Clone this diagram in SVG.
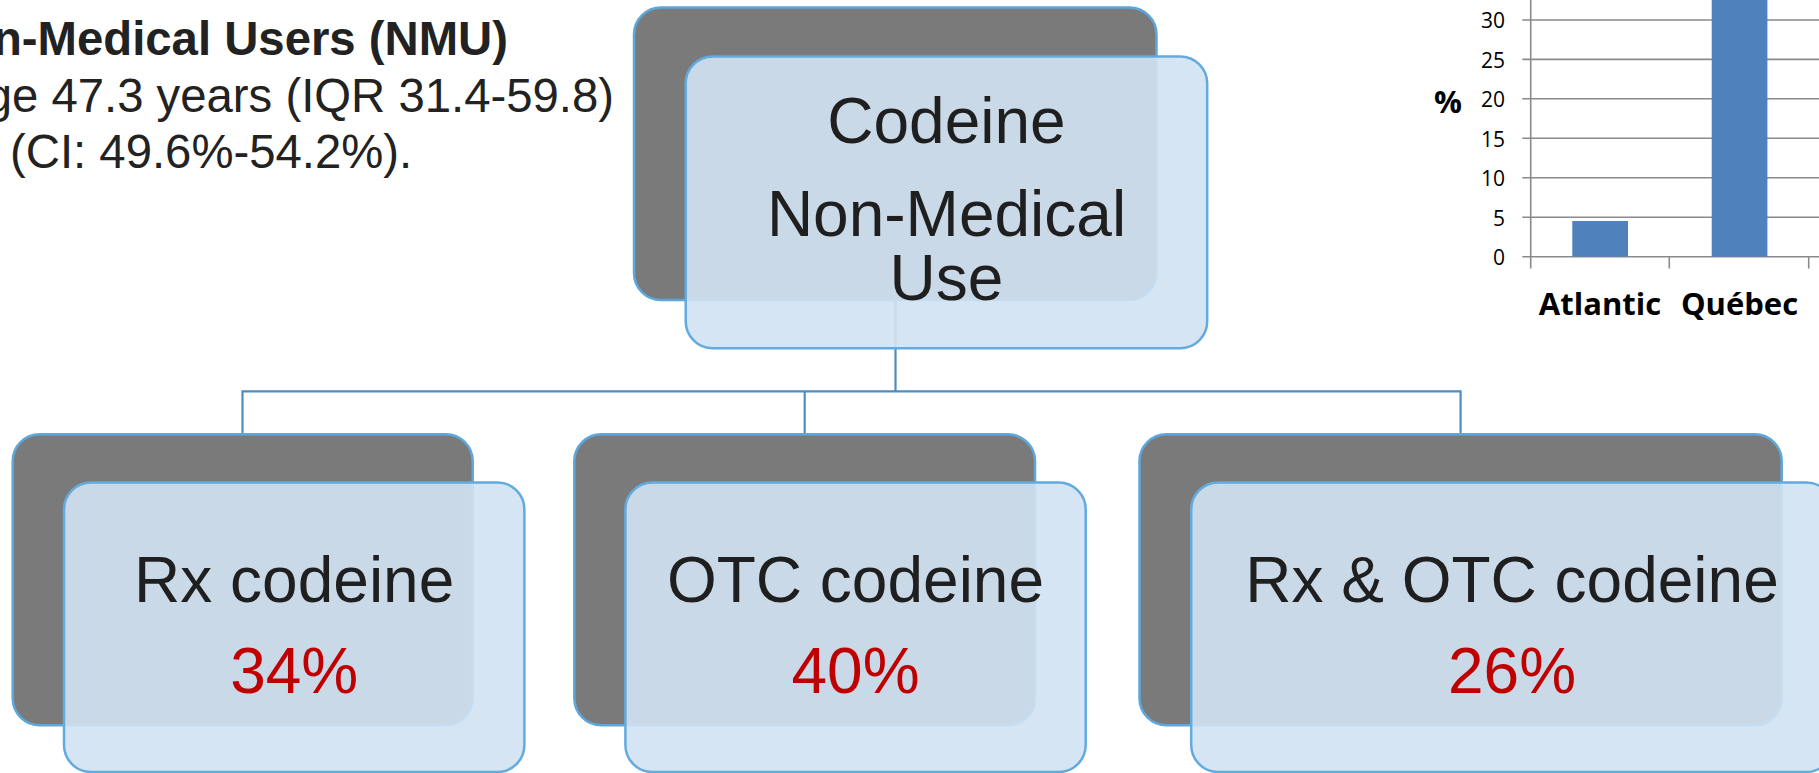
<svg xmlns="http://www.w3.org/2000/svg" width="1819" height="773" viewBox="0 0 1819 773">
  <style>
    .back { fill: #7a7a7a; stroke: #5ea7dc; stroke-width: 2.5; }
    .front { fill: rgb(209,226,243); fill-opacity: 0.91; stroke: #62abdf; stroke-width: 2.5; }
    .lbl { font-family: "Liberation Sans", Arial, sans-serif; font-size: 64px; fill: #1f1f1f; text-anchor: middle; }
    .pct { font-family: "Liberation Sans", Arial, sans-serif; font-size: 64px; fill: #c00000; text-anchor: middle; }
    .info { font-family: "Liberation Sans", Arial, sans-serif; font-size: 47.3px; fill: #222222; }
    .link { fill: none; stroke: #4d8ebf; stroke-width: 2.2; }
    .grid { stroke: #8a8a8a; stroke-width: 1.6; }
    .tick { font-family: "Open Sans", "DejaVu Sans", sans-serif; font-size: 21px; fill: #000000; text-anchor: end; }
    .cat { font-family: "Open Sans", "DejaVu Sans", sans-serif; font-size: 31px; font-weight: bold; fill: #000000; text-anchor: middle; }
  </style>

  <!-- summary text, top left -->
  <g id="summary">
    <text class="info" x="508" y="55" font-weight="bold" font-size="46.5" text-anchor="end">n-Medical Users (NMU)</text>
    <text class="info" x="614" y="112" text-anchor="end">ge 47.3 years (IQR 31.4-59.8)</text>
    <text class="info" x="10" y="168">(CI: 49.6%-54.2%).</text>
  </g>

  <!-- regional bar chart, top right -->
  <g id="chart">
    <g class="grid">
      <line x1="1522.3" y1="20" x2="1819" y2="20"/>
      <line x1="1522.3" y1="59.4" x2="1819" y2="59.4"/>
      <line x1="1522.3" y1="98.8" x2="1819" y2="98.8"/>
      <line x1="1522.3" y1="138.3" x2="1819" y2="138.3"/>
      <line x1="1522.3" y1="177.7" x2="1819" y2="177.7"/>
      <line x1="1522.3" y1="217.2" x2="1819" y2="217.2"/>
      <line x1="1522.3" y1="256.7" x2="1819" y2="256.7"/>
      <line x1="1530.7" y1="0" x2="1530.7" y2="268.5"/>
      <line x1="1669.3" y1="256.7" x2="1669.3" y2="268.5"/>
      <line x1="1808.7" y1="256.7" x2="1808.7" y2="268.5"/>
    </g>
    <rect x="1572.3" y="221" width="55.7" height="35.7" fill="#4f81bd"/>
    <rect x="1711.7" y="0" width="55.7" height="256.7" fill="#4f81bd"/>
    <text class="tick" x="1505" y="28.3">30</text>
    <text class="tick" x="1505" y="67.8">25</text>
    <text class="tick" x="1505" y="107.2">20</text>
    <text class="tick" x="1505" y="146.7">15</text>
    <text class="tick" x="1505" y="186.1">10</text>
    <text class="tick" x="1505" y="225.6">5</text>
    <text class="tick" x="1505" y="265">0</text>
    <text class="cat" x="1448" y="113" font-size="26">%</text>
    <text class="cat" x="1600" y="315">Atlantic</text>
    <text class="cat" x="1739.5" y="315">Québec</text>
  </g>

  <!-- tree connectors -->
  <g id="connectors">
    <path class="link" d="M895.5 300 V391.3 M242.5 434.3 V391.3 H1460.6 V434.3 M804.7 391.3 V434.3"/>
  </g>

  <g id="node-root">
    <rect class="back" x="634" y="7.5" width="522.5" height="292.5" rx="27"/>
    <rect class="front" x="685.7" y="56.5" width="521.5" height="291.8" rx="27"/>
    <text class="lbl" x="946.5" y="143">Codeine</text>
    <text class="lbl" x="946.5" y="235.5">Non-Medical</text>
    <text class="lbl" x="946.5" y="299.5">Use</text>
  </g>

  <g id="node-rx">
    <rect class="back" x="12.7" y="434.3" width="460" height="291" rx="27"/>
    <rect class="front" x="64" y="482.5" width="460.4" height="289.5" rx="27"/>
    <text class="lbl" x="294.2" y="602">Rx codeine</text>
    <text class="pct" x="294.2" y="693">34%</text>
  </g>

  <g id="node-otc">
    <rect class="back" x="574.3" y="434.3" width="460.7" height="291" rx="27"/>
    <rect class="front" x="625.4" y="482.5" width="460.3" height="289.5" rx="27"/>
    <text class="lbl" x="855.5" y="602">OTC codeine</text>
    <text class="pct" x="855.5" y="693">40%</text>
  </g>

  <g id="node-both">
    <rect class="back" x="1139.5" y="434.3" width="642.2" height="291" rx="27"/>
    <rect class="front" x="1191.2" y="482.5" width="642" height="289.5" rx="27"/>
    <text class="lbl" x="1512" y="602">Rx &amp; OTC codeine</text>
    <text class="pct" x="1512" y="693">26%</text>
  </g>
</svg>
